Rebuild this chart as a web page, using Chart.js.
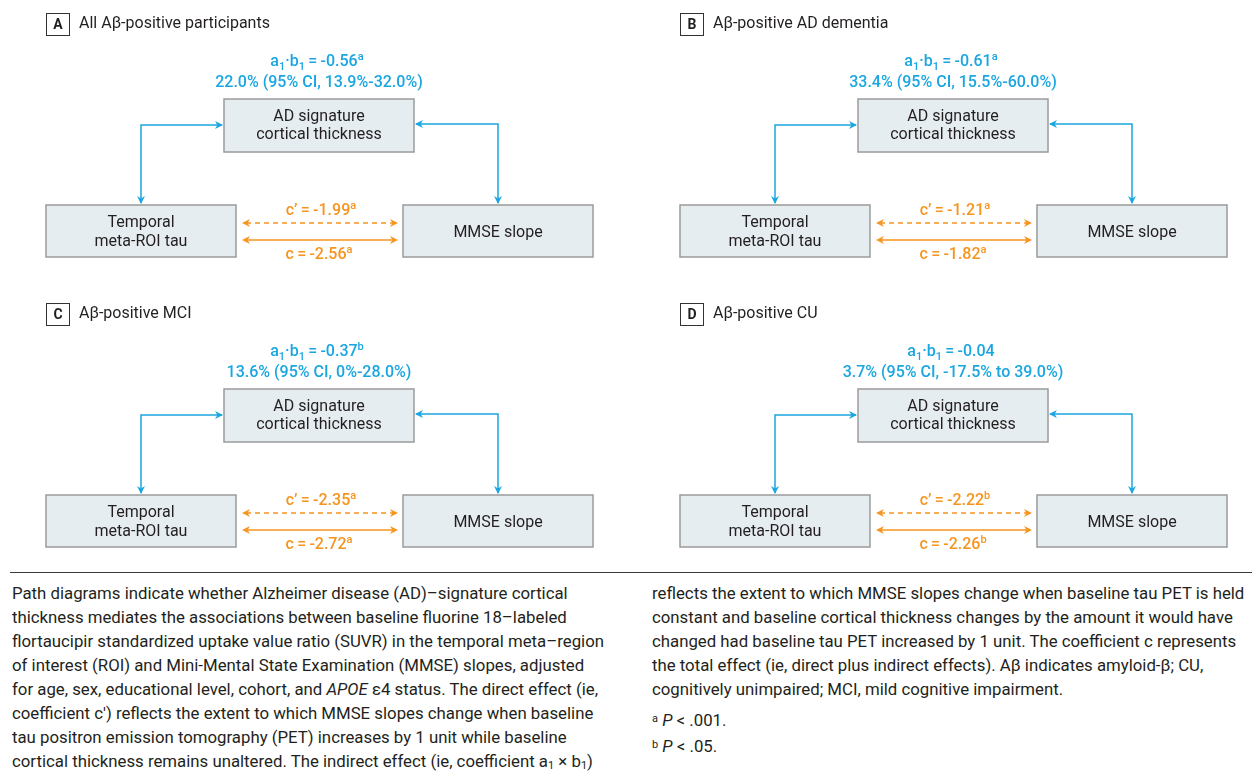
<!DOCTYPE html>
<html>
<head>
<meta charset="utf-8">
<title>Path diagrams</title>
<script src="https://cdn.jsdelivr.net/npm/chart.js@4"></script>
<style>
  body { margin: 0; background: #fff; font-family: Roboto, sans-serif; color: #231f20; }
  #wrap { position: absolute; left: 0; top: 0; width: 1252px; height: 570px; }
  .rule { position: absolute; left: 10px; top: 572px; width: 1242px; border-top: 1px solid #3a3a3a; }
  .col { position: absolute; top: 581px; font-size: 16.8px; line-height: 24px; white-space: nowrap; }
  .col sub { font-size: 11px; vertical-align: -2px; line-height: 0; }
  .col sup { font-size: 11px; vertical-align: 4px; line-height: 0; }
  .notes { margin-top: 6px; line-height: 26px; }
</style>
</head>
<body>
<div id="wrap"><canvas id="paths"></canvas></div>
<div class="rule"></div>
<div class="col" style="left:12px">
Path diagrams indicate whether Alzheimer disease (AD)–signature cortical<br>
thickness mediates the associations between baseline fluorine 18–labeled<br>
flortaucipir standardized uptake value ratio (SUVR) in the temporal meta–region<br>
of interest (ROI) and Mini-Mental State Examination (MMSE) slopes, adjusted<br>
for age, sex, educational level, cohort, and <i>APOE</i> ε4 status. The direct effect (ie,<br>
coefficient c') reflects the extent to which MMSE slopes change when baseline<br>
tau positron emission tomography (PET) increases by 1 unit while baseline<br>
cortical thickness remains unaltered. The indirect effect (ie, coefficient a<sub>1</sub> × b<sub>1</sub>)
</div>
<div class="col" style="left:652px">
reflects the extent to which MMSE slopes change when baseline tau PET is held<br>
constant and baseline cortical thickness changes by the amount it would have<br>
changed had baseline tau PET increased by 1 unit. The coefficient c represents<br>
the total effect (ie, direct plus indirect effects). Aβ indicates amyloid-β; CU,<br>
cognitively unimpaired; MCI, mild cognitive impairment.
<div class="notes"><sup>a</sup> <i>P</i> &lt; .001.<br><sup>b</sup> <i>P</i> &lt; .05.</div>
</div>

<script>
// values, one entry per panel
const panelLetters = ['A', 'B', 'C', 'D'];
const panelTitles = ['All Aβ-positive participants', 'Aβ-positive AD dementia', 'Aβ-positive MCI', 'Aβ-positive CU'];
const indirectEffect = [-0.56, -0.61, -0.37, -0.04];
const indirectSig = ['a', 'a', 'b', ''];
const mediatedPct = [22.0, 33.4, 13.6, 3.7];
const ciLower = [13.9, 15.5, 0, -17.5];
const ciUpper = [32.0, 60.0, 28.0, 39.0];
const directEffect = [-1.99, -1.21, -2.35, -2.22];
const directSig = ['a', 'a', 'a', 'b'];
const totalEffect = [-2.56, -1.82, -2.72, -2.26];
const totalSig = ['a', 'a', 'a', 'b'];
const mediatorLabel = ['AD signature', 'cortical thickness'];
const exposureLabel = ['Temporal', 'meta-ROI tau'];
const outcomeLabel = ['MMSE slope'];

// layout (figure units, one panel)
const panelOrigin = [[0, 0], [634, 0], [0, 290], [634, 290]];
const BLUE = '#1aa6e0';
const ORANGE = '#f7941e';
const BOX_FILL = '#e6edf1';
const BOX_LINE = '#9a9a9a';
const TEXT = '#231f20';
const FONT = 'Roboto, sans-serif';
const EQ = '\u2009=\u2009';

function fmt(v, dash) {
  return (v < 0 ? dash : '') + Math.abs(v).toFixed(2);
}
function pct(v) {
  if (v === 0) return '0%';
  return (v < 0 ? '-' : '') + Math.abs(v).toFixed(1) + '%';
}
function ciText(i) {
  const sep = ciLower[i] < 0 ? ' to ' : '-';
  return mediatedPct[i].toFixed(1) + '% (95% CI, ' + pct(ciLower[i]) + sep + pct(ciUpper[i]) + ')';
}

function richText(ctx, parts, cx, cy, size, weight, color) {
  const small = Math.round(size * 0.7);
  const fontOf = kind => weight + ' ' + (kind ? small : size) + 'px ' + FONT;
  let w = 0;
  parts.forEach(p => { ctx.font = fontOf(p[1]); w += ctx.measureText(p[0]).width; });
  let x = cx - w / 2;
  ctx.fillStyle = color;
  ctx.textAlign = 'left';
  ctx.textBaseline = 'middle';
  parts.forEach(p => {
    ctx.font = fontOf(p[1]);
    const dy = p[1] === 'sub' ? size * 0.3 : p[1] === 'sup' ? -size * 0.32 : 0;
    ctx.fillText(p[0], x, cy + dy);
    x += ctx.measureText(p[0]).width;
  });
}

function arrowHead(ctx, x, y, dx, dy, color) {
  const len = 8, half = 4;
  const px = -dy, py = dx;
  ctx.fillStyle = color;
  ctx.beginPath();
  ctx.moveTo(x, y);
  ctx.lineTo(x - dx * len + px * half, y - dy * len + py * half);
  ctx.lineTo(x - dx * len * 0.7, y - dy * len * 0.7);
  ctx.lineTo(x - dx * len - px * half, y - dy * len - py * half);
  ctx.closePath();
  ctx.fill();
}

const pathDiagram = {
  id: 'pathDiagram',
  afterDraw(chart) {
    const ctx = chart.ctx;
    const sx = chart.scales.x, sy = chart.scales.y;
    ctx.save();
    panelLetters.forEach((letter, i) => {
      const [ox, oy] = panelOrigin[i];
      const X = v => sx.getPixelForValue(ox + v);
      const Y = v => sy.getPixelForValue(oy + v);

      // panel letter + title
      ctx.fillStyle = '#fff';
      ctx.strokeStyle = '#333';
      ctx.lineWidth = 1;
      ctx.fillRect(X(46), Y(13), 23, 22);
      ctx.strokeRect(X(46) + 0.5, Y(13) + 0.5, 23, 22);
      ctx.fillStyle = TEXT;
      ctx.font = 'bold 14px ' + FONT;
      ctx.textAlign = 'center';
      ctx.textBaseline = 'middle';
      ctx.fillText(letter, X(58), Y(25));
      ctx.textAlign = 'left';
      ctx.font = '16px ' + FONT;
      ctx.fillText(panelTitles[i], X(79), Y(24));

      // boxes
      const box = (x, y, w, h, lines, ty) => {
        ctx.fillStyle = BOX_FILL;
        ctx.fillRect(X(x), Y(y), w, h);
        ctx.strokeStyle = BOX_LINE;
        ctx.lineWidth = 1.5;
        ctx.strokeRect(X(x), Y(y), w, h);
        ctx.fillStyle = TEXT;
        ctx.font = '16px ' + FONT;
        ctx.textAlign = 'center';
        ctx.textBaseline = 'middle';
        lines.forEach((t, k) => ctx.fillText(t, X(x + w / 2), Y(ty[k])));
      };
      box(224, 99, 190, 53, mediatorLabel, [117, 135]);
      box(46, 205, 190, 52, exposureLabel, [223, 242]);
      box(403, 205, 190, 52, outcomeLabel, [233]);

      // blue paths a1 and b1
      ctx.strokeStyle = BLUE;
      ctx.lineWidth = 1.5;
      ctx.beginPath();
      ctx.moveTo(X(141), Y(203));
      ctx.lineTo(X(141), Y(125));
      ctx.lineTo(X(222), Y(125));
      ctx.moveTo(X(416), Y(124));
      ctx.lineTo(X(498), Y(124));
      ctx.lineTo(X(498), Y(203));
      ctx.stroke();
      arrowHead(ctx, X(141), Y(204), 0, 1, BLUE);
      arrowHead(ctx, X(223), Y(125), 1, 0, BLUE);
      arrowHead(ctx, X(415), Y(124), -1, 0, BLUE);
      arrowHead(ctx, X(498), Y(204), 0, 1, BLUE);

      // orange paths c' (dashed) and c (solid)
      ctx.strokeStyle = ORANGE;
      ctx.setLineDash([5, 4]);
      ctx.beginPath();
      ctx.moveTo(X(246), Y(223));
      ctx.lineTo(X(393), Y(223));
      ctx.stroke();
      ctx.setLineDash([]);
      ctx.beginPath();
      ctx.moveTo(X(246), Y(240));
      ctx.lineTo(X(393), Y(240));
      ctx.stroke();
      [223, 240].forEach(y => {
        arrowHead(ctx, X(242), Y(y), -1, 0, ORANGE);
        arrowHead(ctx, X(398), Y(y), 1, 0, ORANGE);
      });

      // coefficient labels
      richText(ctx, [['a', ''], ['1', 'sub'], ['·b', ''], ['1', 'sub'], [EQ + fmt(indirectEffect[i], '-'), ''], [indirectSig[i], 'sup']],
        X(317), Y(62), 16, 500, BLUE);
      richText(ctx, [[ciText(i), '']], X(319), Y(83), 16, 500, BLUE);
      richText(ctx, [['c’' + EQ + fmt(directEffect[i], '-'), ''], [directSig[i], 'sup']], X(321), Y(211), 16, 500, ORANGE);
      richText(ctx, [['c' + EQ + fmt(totalEffect[i], '-'), ''], [totalSig[i], 'sup']], X(319), Y(255), 16, 500, ORANGE);
    });
    ctx.restore();
  }
};

new Chart(document.getElementById('paths'), {
  type: 'scatter',
  data: { datasets: [] },
  options: {
    animation: false,
    responsive: true,
    maintainAspectRatio: false,
    layout: { padding: 0 },
    plugins: { legend: { display: false }, tooltip: { enabled: false } },
    scales: {
      x: { type: 'linear', min: 0, max: 1252, display: false },
      y: { type: 'linear', min: 0, max: 570, reverse: true, display: false }
    }
  },
  plugins: [pathDiagram]
});
</script>
</body>
</html>
